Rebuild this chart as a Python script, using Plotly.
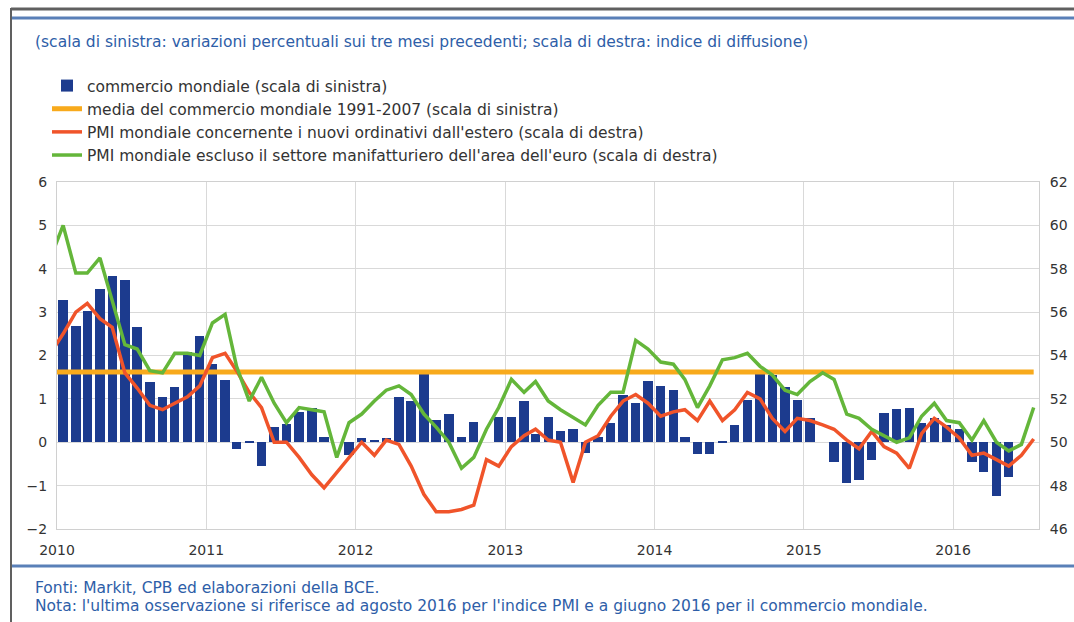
import pandas as pd
import plotly.graph_objects as go

# ---------------- data ----------------
# world trade, 3-month-on-3-month % change (left scale), monthly from Jan 2010
trade_start = "2010-01-01"
trade = [3.29, 2.69, 3.03, 3.53, 3.84, 3.74, 2.65, 1.38, 1.04, 1.28, 2.07, 2.44,
         1.81, 1.44, -0.15, 0.04, -0.54, 0.36, 0.42, 0.70, 0.80, 0.12, 0.00, -0.30,
         0.10, 0.05, 0.10, 1.04, 0.96, 1.58, 0.52, 0.66, 0.11, 0.46, 0.00, 0.58,
         0.58, 0.95, 0.20, 0.59, 0.27, 0.30, -0.25, 0.12, 0.45, 1.10, 0.90, 1.42,
         1.30, 1.20, 0.12, -0.27, -0.27, 0.02, 0.40, 0.97, 1.60, 1.55, 1.27, 0.98,
         0.56, 0.00, -0.45, -0.95, -0.88, -0.40, 0.68, 0.76, 0.78, 0.45, 0.55, 0.40,
         0.30, -0.46, -0.69, -1.25, -0.80]

# PMI series (right scale), monthly from Dec 2009
pmi_start = "2009-12-01"
pmi_new_export_orders = [
    54.1,
    55.0, 56.0, 56.4, 55.7, 55.3, 53.2, 52.5, 51.7, 51.5, 51.8, 52.1, 52.6,
    53.9, 54.1, 53.3, 52.3, 51.6, 50.0, 50.0, 49.3, 48.5, 47.9, 48.6, 49.3,
    50.0, 49.4, 50.1, 49.9, 48.9, 47.6, 46.8, 46.8, 46.9, 47.1, 49.2, 48.9,
    49.8, 50.3, 50.6, 50.1, 50.0, 48.15, 50.0, 50.3, 51.2, 51.9, 52.2, 51.8,
    51.2, 51.4, 51.5, 51.0, 51.9, 51.0, 51.5, 52.3, 52.0, 51.1, 50.5, 51.1,
    51.0, 50.8, 50.6, 50.1, 49.7, 50.5, 49.8, 49.5, 48.8, 50.4, 51.1, 50.7,
    50.2, 49.4, 49.5, 49.2, 48.9, 49.4, 50.15]
pmi_ex_euro_manuf = [
    58.5,
    60.0, 57.8, 57.8, 58.5, 56.6, 54.5, 54.3, 53.3, 53.2, 54.1, 54.1, 54.0,
    55.5, 55.9, 53.5, 51.9, 53.0, 51.8, 50.9, 51.6, 51.5, 51.4, 49.3, 50.9,
    51.3, 51.9, 52.4, 52.6, 52.2, 51.3, 50.7, 50.0, 48.8, 49.3, 50.6, 51.6,
    52.9, 52.3, 52.8, 51.9, 51.5, 51.15, 50.8, 51.7, 52.3, 52.3, 54.7, 54.3,
    53.7, 53.6, 52.9, 51.6, 52.6, 53.8, 53.9, 54.1, 53.5, 53.1, 52.4, 52.2,
    52.8, 53.2, 52.9, 51.3, 51.1, 50.6, 50.3, 50.0, 50.2, 51.2, 51.8, 51.0,
    50.9, 50.1, 51.0, 50.0, 49.6, 49.9, 51.6]

trade_avg_1991_2007 = 1.62

left_ticks = [-2, -1, 0, 1, 2, 3, 4, 5, 6]
right_ticks = [46, 48, 50, 52, 54, 56, 58, 60, 62]

names = ["commercio mondiale (scala di sinistra)",
         "media del commercio mondiale 1991-2007 (scala di sinistra)",
         "PMI mondiale concernente i nuovi ordinativi dall'estero (scala di destra)",
         "PMI mondiale escluso il settore manifatturiero dell'area dell'euro (scala di destra)"]

subtitle = "(scala di sinistra: variazioni percentuali sui tre mesi precedenti; scala di destra: indice di diffusione)"
note1 = "Fonti: Markit, CPB ed elaborazioni della BCE."
note2 = ("Nota: l'ultima osservazione si riferisce ad agosto 2016 per l'indice PMI "
         "e a giugno 2016 per il commercio mondiale.")

# ---------------- positions (mid-month) ----------------
mid = pd.Timedelta(days=15)
x_trade = pd.date_range(trade_start, periods=len(trade), freq="MS") + mid
x_pmi = pd.date_range(pmi_start, periods=len(pmi_ex_euro_manuf), freq="MS") + mid

# ---------------- styling ----------------
W, H = 1074, 622
L, R, T, B = 57, 35, 182, 93
PW, PH = W - L - R, H - T - B


def px_x(px):
    return (px - L) / PW


def px_y(py):
    return (H - B - py) / PH


BLUE = "#1c3b8e"
ORANGE = "#f8aa1c"
RED = "#f0542a"
GREEN = "#64b63a"
TEXT_BLUE = "#2e5ea8"
FONT = "DejaVu Sans, Verdana, sans-serif"
TXT = 15.5

fig = go.Figure()
fig.add_trace(go.Bar(x=x_trade, y=trade, name=names[0], marker_color=BLUE,
                     marker_line_width=0, width=23 * 86400000,
                     legendgroup="a"))
fig.add_trace(go.Scatter(x=[x_pmi[0], x_pmi[-1]],
                         y=[trade_avg_1991_2007, trade_avg_1991_2007],
                         mode="lines", name=names[1],
                         line=dict(color=ORANGE, width=5), legendgroup="b"))
fig.add_trace(go.Scatter(x=x_pmi, y=pmi_new_export_orders, mode="lines",
                         name=names[2], yaxis="y2",
                         line=dict(color=RED, width=3.5), legendgroup="c"))
fig.add_trace(go.Scatter(x=x_pmi, y=pmi_ex_euro_manuf, mode="lines",
                         name=names[3], yaxis="y2",
                         line=dict(color=GREEN, width=3.5), legendgroup="d"))

fig.update_layout(
    width=W, height=H,
    margin=dict(l=L, r=R, t=T, b=B, autoexpand=False),
    paper_bgcolor="white", plot_bgcolor="white",
    font=dict(family=FONT, size=14, color="#333333"),
    showlegend=True,
    legend=dict(x=px_x(47), y=px_y(69), xanchor="left", yanchor="top",
                bgcolor="rgba(0,0,0,0)", font=dict(size=TXT, color="#333333"),
                tracegroupgap=0, itemwidth=30),
    xaxis=dict(type="date", range=["2010-01-01", "2016-07-29"],
               tickformat="%Y", dtick="M12", tick0="2010-01-01",
               showgrid=True, gridcolor="#d9d9d9", gridwidth=1,
               showline=True, linecolor="#d0d0d0", mirror=True,
               ticks="", ticklabelstandoff=8,
               tickfont=dict(size=14, color="#333333")),
    yaxis=dict(range=[-2, 6], tickvals=left_ticks, showgrid=True,
               gridcolor="#d9d9d9", gridwidth=1, zeroline=False,
               showline=True, linecolor="#d0d0d0",
               ticks="", ticklabelstandoff=6,
               tickfont=dict(size=14, color="#333333")),
    yaxis2=dict(range=[46, 62], tickvals=right_ticks, overlaying="y",
                side="right", showgrid=False, zeroline=False,
                showline=True, linecolor="#d0d0d0",
                ticks="", ticklabelstandoff=7,
                tickfont=dict(size=14, color="#333333")),
    bargap=0,
)

# subtitle and notes
fig.add_annotation(text=subtitle, x=px_x(33), y=px_y(42), xref="paper", yref="paper",
                   xanchor="left", yanchor="middle", showarrow=False,
                   font=dict(size=TXT, color=TEXT_BLUE))
fig.add_annotation(text=note1, x=px_x(33), y=px_y(588), xref="paper", yref="paper",
                   xanchor="left", yanchor="middle", showarrow=False,
                   font=dict(size=TXT, color=TEXT_BLUE))
fig.add_annotation(text=note2, x=px_x(33), y=px_y(606), xref="paper", yref="paper",
                   xanchor="left", yanchor="middle", showarrow=False,
                   font=dict(size=TXT, color=TEXT_BLUE))

# frame lines
fig.add_shape(type="line", xref="paper", yref="paper", x0=px_x(11), x1=px_x(1074),
              y0=px_y(9), y1=px_y(9), line=dict(color="#606060", width=3))
fig.add_shape(type="line", xref="paper", yref="paper", x0=px_x(11), x1=px_x(11),
              y0=px_y(8), y1=px_y(622), line=dict(color="#606060", width=2))
fig.add_shape(type="line", xref="paper", yref="paper", x0=px_x(12), x1=px_x(1074),
              y0=px_y(18), y1=px_y(18), line=dict(color="#5a80b8", width=3))
fig.add_shape(type="line", xref="paper", yref="paper", x0=px_x(12), x1=px_x(1074),
              y0=px_y(566), y1=px_y(566), line=dict(color="#5a80b8", width=3))

fig.write_html("out.html", config={"displayModeBar": False},
               post_script="document.body.style.margin='0';")
